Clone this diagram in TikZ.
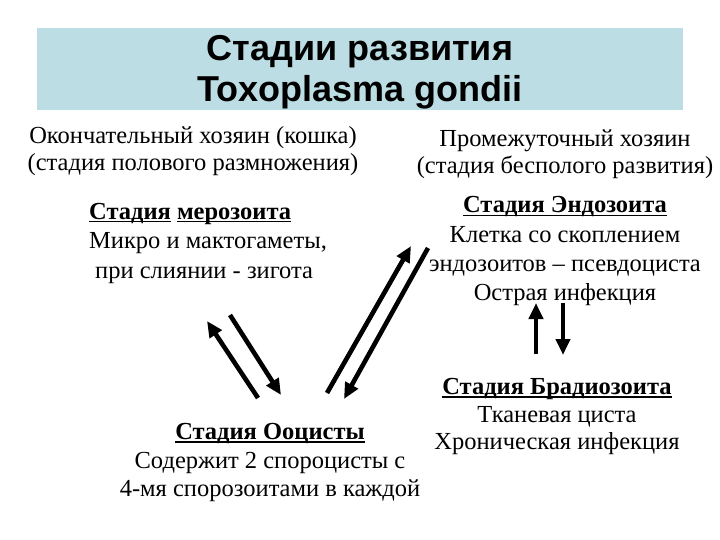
\documentclass[tikz,border=0pt]{standalone}
\usepackage{fontspec}
\setmainfont{Liberation Serif}
\newfontfamily\titlefont{Liberation Sans}
\usetikzlibrary{arrows.meta}
\definecolor{titlebg}{RGB}{188,221,227}
\newcommand\ulx[1]{\setbox0\hbox{#1}\rlap{\rule[-3.5pt]{\wd0}{1.8pt}}\box0\relax}
\tikzset{
  txt/.style={font=\fontsize{24.5}{28}\selectfont, inner sep=0pt, anchor=base},
  txtl/.style={font=\fontsize{24.5}{28}\selectfont, inner sep=0pt, anchor=base west},
  ttl/.style={font=\titlefont\bfseries\fontsize{36}{40}\selectfont, inner sep=0pt, anchor=base},
  arr/.style={line width=4.6pt, -{Triangle[length=16pt,width=14pt]}}
}
\begin{document}
\begin{tikzpicture}[x=1pt,y=-1pt]
\useasboundingbox (0,0) rectangle (720,540);
\fill[white] (0,0) rectangle (720,540);
\node[fill=titlebg, minimum width=646pt, minimum height=82pt, inner sep=0pt] (tbox) at (360,69) {};
\node[ttl] (t1) at (360,61) {Стадии развития};
\node[ttl] (t2) at (360,102) {Toxoplasma gondii};

\node[txt] (lh1) at (193,144) {Окончательный хозяин (кошка)};
\node[txt] (lh2) at (193,171) {(стадия полового размножения)};
\node[txt] (rh1) at (565,147) {Промежуточный хозяин};
\node[txt] (rh2) at (565,174) {(стадия бесполого развития)};

\node[txtl] (m1) at (89,219) {\bfseries\ulx{Стадия}\ \ulx{мерозоита}};
\node[txtl] (m2) at (89,248) {Микро и мактогаметы,};
\node[txtl] (m3) at (95,278) {при слиянии - зигота};

\node[txt] (e1) at (565,213) {\bfseries\ulx{Стадия Эндозоита}};
\node[txt] (e2) at (565,242) {Клетка со скоплением};
\node[txt] (e3) at (565,271) {эндозоитов – псевдоциста};
\node[txt] (e4) at (565,300) {Острая инфекция};

\node[txt] (b1) at (557,394) {\bfseries\ulx{Стадия Брадиозоита}};
\node[txt] (b2) at (557,422) {Тканевая циста};
\node[txt] (b3) at (557,449) {Хроническая инфекция};

\node[txt] (o1) at (270,439) {\bfseries\ulx{Стадия Ооцисты}};
\node[txt] (o2) at (270,468) {Содержит 2 спороцисты с};
\node[txt] (o3) at (270,496) {4-мя спорозоитами в каждой};

\coordinate (a1s) at (258,398); \coordinate (a1e) at (207,321);
\coordinate (a2s) at (230,315); \coordinate (a2e) at (281,395);
\coordinate (a3s) at (327,393); \coordinate (a3e) at (411,246);
\coordinate (a4s) at (428,248); \coordinate (a4e) at (344,399);
\coordinate (a5s) at (536,354); \coordinate (a5e) at (536,303);
\coordinate (a6s) at (563,303); \coordinate (a6e) at (563,355);
\draw[arr] (a1s) -- (a1e);
\draw[arr] (a2s) -- (a2e);
\draw[arr] (a3s) -- (a3e);
\draw[arr] (a4s) -- (a4e);
\draw[arr] (a5s) -- (a5e);
\draw[arr] (a6s) -- (a6e);
\end{tikzpicture}
\end{document}
